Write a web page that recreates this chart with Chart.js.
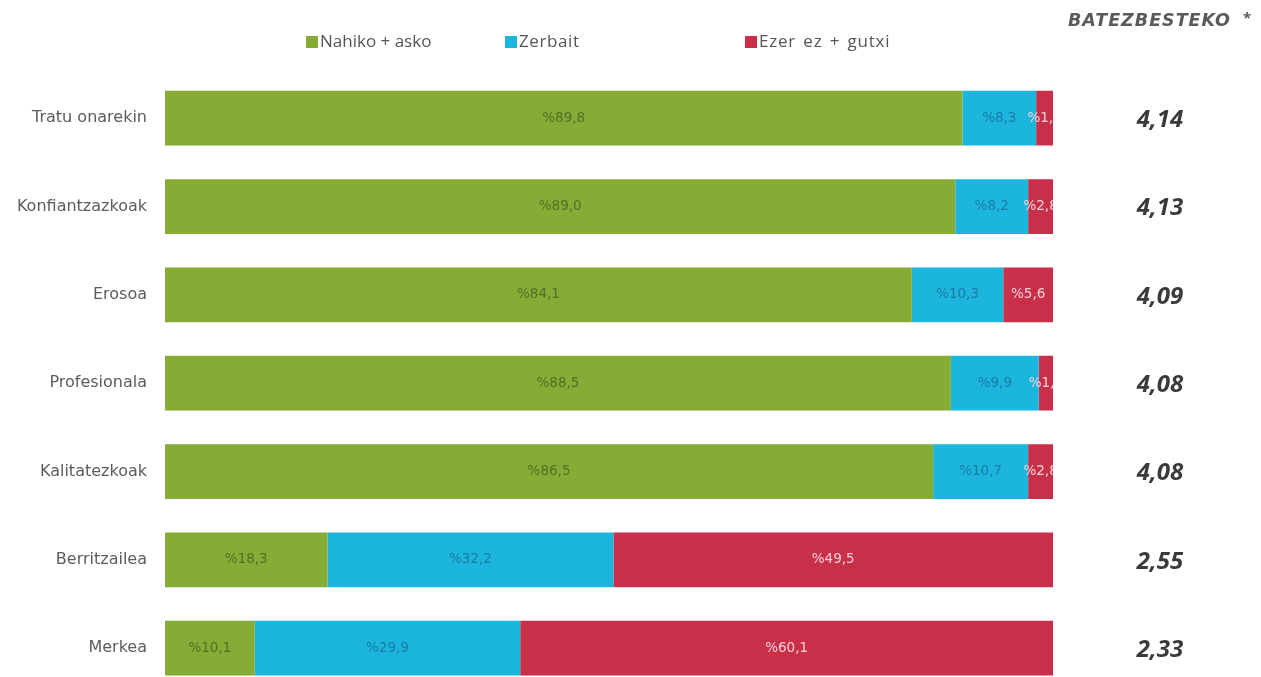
<!DOCTYPE html>
<html>
<head>
<meta charset="utf-8">
<script src="https://cdn.jsdelivr.net/npm/chart.js@4.4.1/dist/chart.umd.min.js"></script>
<style>
html,body{margin:0;padding:0;background:#fff;overflow:hidden;}
#wrap{position:relative;width:1261px;height:720px;}
</style>
</head>
<body>
<div id="wrap"><canvas id="c"></canvas></div>
<script>
const categories = ["Tratu onarekin","Konfiantzazkoak","Erosoa","Profesionala","Kalitatezkoak","Berritzailea","Merkea"];
const seriesNames = ["Nahiko + asko","Zerbait","Ezer ez + gutxi"];
const nahiko = [89.8, 89.0, 84.1, 88.5, 86.5, 18.3, 10.1];
const zerbait = [8.3, 8.2, 10.3, 9.9, 10.7, 32.2, 29.9];
const ezer = [1.9, 2.8, 5.6, 1.6, 2.8, 49.5, 60.1];
const averages = ["4,14","4,13","4,09","4,08","4,08","2,55","2,33"];
const averageTitle = "BATEZBESTEKO";

const colors = ["#86AC35", "#1CB5DD", "#C8304A"];
const labelColors = ["rgba(70,95,35,0.8)", "rgba(25,100,140,0.7)", "rgba(255,215,222,0.95)"];
const FONT = "'Open Sans', 'Noto Sans', sans-serif";
const WIDE = "'DejaVu Sans', 'Open Sans', sans-serif";

const fmt = v => "%" + v.toFixed(1).replace(".", ",");

const barLabels = {
  id: "barLabels",
  afterDatasetsDraw(chart) {
    const ctx = chart.ctx, area = chart.chartArea;
    ctx.save();
    if ("letterSpacing" in ctx) ctx.letterSpacing = "0px";
    ctx.beginPath();
    ctx.rect(area.left, area.top, area.right - area.left, area.bottom - area.top);
    ctx.clip();
    ctx.font = "13.5px " + WIDE;
    ctx.textAlign = "center";
    ctx.textBaseline = "middle";
    chart.data.datasets.forEach((ds, di) => {
      const meta = chart.getDatasetMeta(di);
      meta.data.forEach((bar, i) => {
        const left = Math.min(bar.x, bar.base), right = Math.min(Math.max(bar.x, bar.base), area.right);
        ctx.fillStyle = labelColors[di];
        ctx.fillText(fmt(ds.data[i]), (left + right) / 2, bar.y);
      });
    });
    ctx.restore();
  }
};

const sidePanel = {
  id: "sidePanel",
  afterDraw(chart) {
    const ctx = chart.ctx, y = chart.scales.y;
    const hasLS = "letterSpacing" in ctx, hasWS = "wordSpacing" in ctx;
    ctx.save();
    // header
    ctx.font = "italic bold 17.5px " + WIDE;
    ctx.fillStyle = "#5a5a5a";
    ctx.textAlign = "left";
    ctx.textBaseline = "middle";
    if (hasLS) ctx.letterSpacing = "1px";
    ctx.fillText(averageTitle, 1068, 21);
    if (hasLS) ctx.letterSpacing = "0px";
    ctx.font = "bold 15px " + FONT;
    ctx.fillText("*", 1243, 19);
    // averages
    ctx.font = "italic bold 24px " + FONT;
    ctx.fillStyle = "#3a3a3a";
    ctx.textAlign = "center";
    averages.forEach((a, i) => ctx.fillText(a, 1160, y.getPixelForValue(i) + 2));
    // legend
    const lx = [306, 505, 745];
    const ls = ["0px", "0.6px", "0.8px"];
    const ws = ["0px", "0px", "2px"];
    ctx.font = "17px " + FONT;
    ctx.textAlign = "left";
    seriesNames.forEach((n, i) => {
      ctx.fillStyle = colors[i];
      ctx.fillRect(lx[i], 36, 12, 12);
      ctx.fillStyle = "#555";
      if (hasLS) ctx.letterSpacing = ls[i];
      if (hasWS) ctx.wordSpacing = ws[i];
      ctx.fillText(n, lx[i] + 14, 42);
    });
    ctx.restore();
  }
};

new Chart(document.getElementById("c"), {
  type: "bar",
  data: {
    labels: categories,
    datasets: [
      { label: seriesNames[0], data: nahiko, backgroundColor: colors[0] },
      { label: seriesNames[1], data: zerbait, backgroundColor: colors[1] },
      { label: seriesNames[2], data: ezer, backgroundColor: colors[2] }
    ]
  },
  options: {
    indexAxis: "y",
    responsive: true,
    maintainAspectRatio: false,
    animation: false,
    layout: { padding: { top: 74, bottom: 27, right: 208, left: 0 } },
    datasets: { bar: { categoryPercentage: 1, barPercentage: 0.62 } },
    scales: {
      x: { stacked: true, min: 0, max: 100, display: false },
      y: {
        stacked: true,
        grid: { display: false, drawTicks: false },
        border: { display: false },
        ticks: { padding: 18, color: "#5c5c5c", font: { family: WIDE, size: 16 } },
        afterFit(scale) { scale.width = 165; }
      }
    },
    plugins: { legend: { display: false }, tooltip: { enabled: false } }
  },
  plugins: [barLabels, sidePanel]
});
</script>
</body>
</html>
